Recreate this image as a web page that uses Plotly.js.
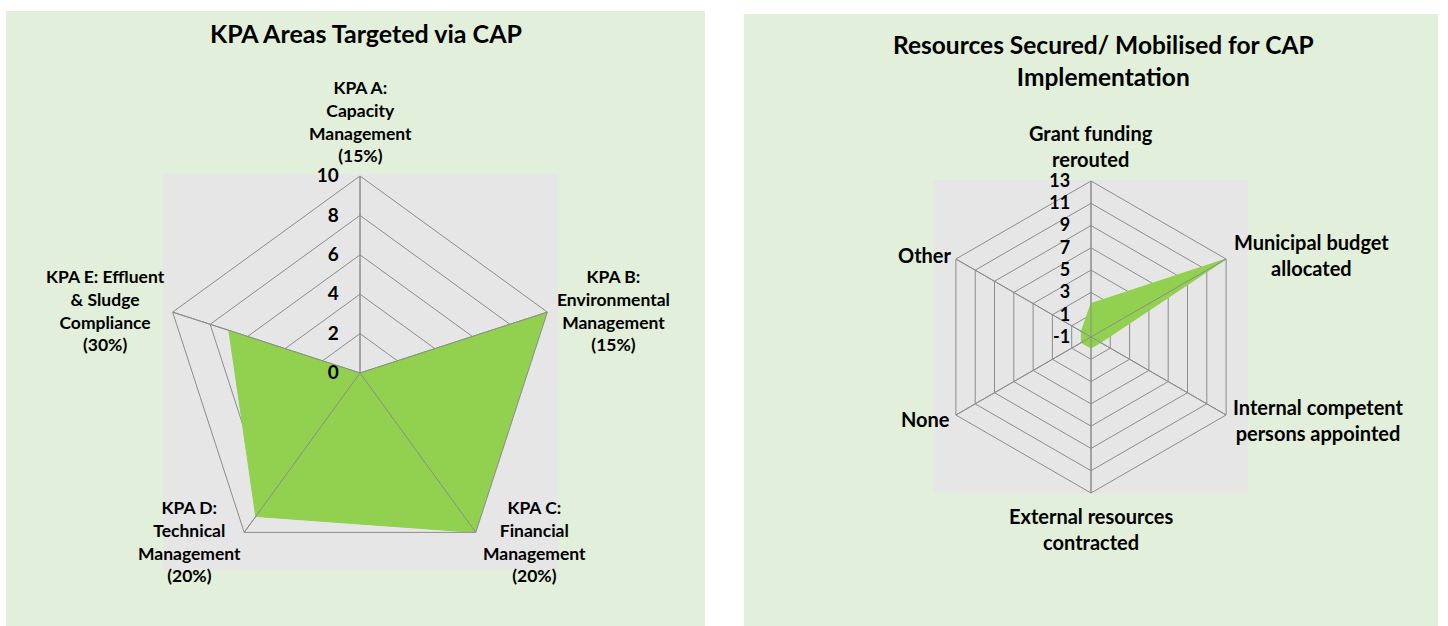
<!DOCTYPE html>
<html>
<head>
<meta charset="utf-8">
<script src="https://cdn.plot.ly/plotly-3.0.1.min.js"></script>
<style>
  html, body { margin: 0; padding: 0; background: #ffffff; }
  #chart { width: 1448px; height: 626px; }
</style>
</head>
<body>
<div id="chart"></div>
<script>
// left chart: KPA areas
var kpaNames = [
  "KPA A:<br>Capacity<br>Management<br>(15%)",
  "KPA B:<br>Environmental<br>Management<br>(15%)",
  "KPA C:<br>Financial<br>Management<br>(20%)",
  "KPA D:<br>Technical<br>Management<br>(20%)",
  "KPA E: Effluent<br>& Sludge<br>Compliance<br>(30%)"
];
var kpaValues = [0, 10, 10, 9, 7];
var kpaTicks = [0, 2, 4, 6, 8, 10];

// right chart: resources
var resNames = [
  "Grant funding<br>rerouted",
  "Municipal budget<br>allocated",
  "Internal competent<br>persons appointed",
  "External resources<br>contracted",
  "None",
  "Other"
];
var resValues = [2, 13, 0, 0, 0, 0];
var resTicks = [-1, 1, 3, 5, 7, 9, 11, 13];

// where the category labels sit (pixels), same order as the names
var kpaLabelPos = [[360, 121], [613, 310], [534, 541], [189, 541], [106, 310]];
var resLabelPos = [[1091, 146], [1311, 255], [1318, 420], [1091, 529], [926, 419], [925, 255]];

var W = 1448, H = 626;
function px(x) { return x / W; }
function py(y) { return 1 - y / H; }

var gridCol = "#8c8c8c";
var font = "Lato, 'Open Sans', sans-serif";

// close the polygon
function closed(arr) { return arr.concat([arr[0]]); }

// spokes drawn over the fill, like the category axis lines in the original
function spokes(names, ticks, subplot) {
  var r = [], theta = [];
  names.forEach(function (n) {
    r.push(ticks[0], ticks[ticks.length - 1], null);
    theta.push(n, n, n);
  });
  return {
    type: "scatterpolar", r: r, theta: theta, mode: "lines",
    line: { color: gridCol, width: 1 }, connectgaps: false,
    subplot: subplot, hoverinfo: "skip"
  };
}

var data = [
  {
    type: "scatterpolar",
    r: closed(kpaValues),
    theta: closed(kpaNames),
    fill: "toself",
    fillcolor: "#92D050",
    line: { color: "#92D050", width: 1 },
    mode: "lines",
    subplot: "polar",
    hoverinfo: "skip"
  },
  spokes(kpaNames, kpaTicks, "polar"),
  {
    type: "scatterpolar",
    r: closed(resValues),
    theta: closed(resNames),
    fill: "toself",
    fillcolor: "#92D050",
    line: { color: "#92D050", width: 1 },
    mode: "lines",
    subplot: "polar2",
    hoverinfo: "skip"
  },
  spokes(resNames, resTicks, "polar2")
];

function polarLayout(dom, ticks, names, tickSize) {
  return {
    domain: dom,
    gridshape: "linear",
    bgcolor: "rgba(0,0,0,0)",
    radialaxis: {
      range: [ticks[0], ticks[ticks.length - 1]],
      tickvals: ticks,
      ticktext: ticks.map(String),
      angle: 90,
      tickangle: 90,
      side: "counterclockwise",
      showline: false,
      ticks: "outside",
      ticklen: 14,
      tickcolor: "rgba(0,0,0,0)",
      gridcolor: gridCol,
      gridwidth: 1,
      tickfont: { family: font, size: tickSize, color: "#000", weight: "bold" }
    },
    angularaxis: {
      categoryarray: names,
      rotation: 90,
      direction: "clockwise",
      showline: true,
      linecolor: gridCol,
      linewidth: 1,
      gridcolor: gridCol,
      ticks: "",
      showticklabels: false
    }
  };
}

var annotations = [
  { text: "KPA Areas Targeted via CAP", xref: "paper", yref: "paper",
    x: px(366), y: py(33), xanchor: "center", yanchor: "middle", showarrow: false,
    font: { family: font, size: 25, color: "#000", weight: "bold" } },
  { text: "Resources Secured/ Mobilised for CAP<br>Implementation", xref: "paper", yref: "paper",
    x: px(1103), y: py(61), xanchor: "center", yanchor: "middle", showarrow: false,
    font: { family: font, size: 24.5, color: "#000", weight: "bold" } }
];

function addLabels(names, pos, size) {
  names.forEach(function (name, i) {
    annotations.push({
      text: name, xref: "paper", yref: "paper",
      x: px(pos[i][0]), y: py(pos[i][1]),
      xanchor: "center", yanchor: "middle", align: "center", showarrow: false,
      font: { family: font, size: size, color: "#000", weight: "bold" }
    });
  });
}
addLabels(kpaNames, kpaLabelPos, 17.5);
addLabels(resNames, resLabelPos, 20);

var layout = {
  width: W,
  height: H,
  margin: { l: 0, r: 0, t: 0, b: 0 },
  paper_bgcolor: "#ffffff",
  showlegend: false,
  polar: polarLayout({ x: [px(163), px(557)], y: [py(570), py(176)] }, kpaTicks, kpaNames, 19),
  polar2: polarLayout({ x: [px(935), px(1247)], y: [py(493), py(181)] }, resTicks, resNames, 18),
  shapes: [
    { type: "rect", xref: "paper", yref: "paper", layer: "below",
      x0: px(6), x1: px(705), y0: py(626), y1: py(11),
      fillcolor: "#E2EFDA", line: { width: 0 } },
    { type: "rect", xref: "paper", yref: "paper", layer: "below",
      x0: px(744), x1: px(1438), y0: py(626), y1: py(14),
      fillcolor: "#E2EFDA", line: { width: 0 } },
    { type: "rect", xref: "paper", yref: "paper", layer: "below",
      x0: px(163), x1: px(558), y0: py(570), y1: py(174),
      fillcolor: "#E6E6E6", line: { width: 0 } },
    { type: "rect", xref: "paper", yref: "paper", layer: "below",
      x0: px(934), x1: px(1248), y0: py(493), y1: py(180),
      fillcolor: "#E6E6E6", line: { width: 0 } }
  ],
  annotations: annotations
};

Plotly.newPlot("chart", data, layout, { displayModeBar: false, staticPlot: true });
</script>
</body>
</html>
